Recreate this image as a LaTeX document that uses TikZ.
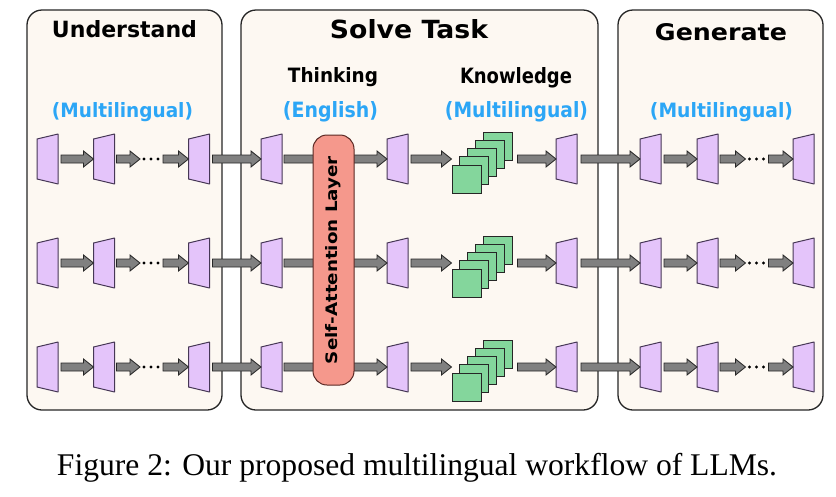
\documentclass[tikz,border=0pt]{standalone}
\usepackage{fontspec}
\setmainfont{Liberation Serif}
\newfontfamily\comicf{DejaVu Sans}
\usetikzlibrary{calc}
\definecolor{panelfill}{RGB}{253,248,242}
\definecolor{trapfill}{RGB}{228,196,250}
\definecolor{trapdraw}{RGB}{70,55,85}
\definecolor{greenfill}{RGB}{132,214,156}
\definecolor{safill}{RGB}{245,152,140}
\definecolor{sadraw}{RGB}{90,40,35}
\definecolor{bluetxt}{RGB}{44,166,246}
\definecolor{arrfill}{RGB}{128,128,128}
\tikzset{
  panel/.style={draw=black!85, line width=1.3pt, fill=panelfill, rounded corners=15pt},
  trapbox/.style={inner sep=0pt, outer sep=0pt, minimum width=21pt, minimum height=50pt},
  trapshape/.style={draw=trapdraw, fill=trapfill, line width=1pt, line join=round},
  dotsbox/.style={inner sep=0pt, outer sep=0pt, minimum width=22pt, minimum height=6pt},
  stackbox/.style={inner sep=0pt, outer sep=0pt, minimum width=62pt, minimum height=10pt},
  sqshape/.style={draw=black!85, fill=greenfill, line width=0.9pt},
  blockarr/.style={draw=black!85, fill=arrfill, line width=0.8pt, line join=miter},
  salayer/.style={draw=sadraw, fill=safill, line width=1pt, rounded corners=14pt,
    minimum width=41pt, minimum height=250pt, inner sep=0pt},
  title/.style={font=\comicf\bfseries, text=black, inner sep=0pt, anchor=base},
  sub/.style={font=\comicf\bfseries, inner sep=0pt, anchor=base},
}
% trapezoid node
\newcommand{\mytrap}[3]{%
  \node[trapbox] (#1) at (#2,#3) {};
  \draw[trapshape] ($(#1.north west)+(0,5)$) -- (#1.north east) -- (#1.south east) -- ($(#1.south west)+(0,-5)$) -- cycle;}
% block arrow from node #1 (east) to node #2 (west), with start gap #3
\newcommand{\barrow}[3]{%
  \path let \p1=(#1.east), \p2=(#2.west) in
    [blockarr] (\x1+#3,\y1+4pt) -- (\x2-10pt,\y1+4pt) -- (\x2-10pt,\y1+8pt) -- (\x2,\y1)
    -- (\x2-10pt,\y1-8pt) -- (\x2-10pt,\y1-4pt) -- (\x1+#3,\y1-4pt) -- cycle;}
\newcommand{\mydots}[3]{%
  \node[dotsbox] (#1) at (#2,#3) {};
  \fill ($(#1)+(-7,0)$) circle (1.6pt);
  \fill ($(#1)+(0,0)$) circle (1.6pt);
  \fill ($(#1)+(7,0)$) circle (1.6pt);}
\newcommand{\mystack}[3]{%
  \node[stackbox] (#1) at (#2,#3) {};
  \foreach \i in {4,3,2,1,0} {
    \draw[sqshape] ($(#1)+(-30.5+7.75*\i,6-8.25*\i)$) rectangle ++(29,28);
  }}
\begin{document}
\begin{tikzpicture}[x=1pt,y=-1pt]
\useasboundingbox (0,0) rectangle (836,496);
\fill[white] (0,0) rectangle (836,496);
% panels
\draw[panel] (27,10) rectangle (222,410);
\draw[panel] (241,10) rectangle (598,410);
\draw[panel] (618,10) rectangle (823,410);
% titles
\node[title] (tU) at (124.5,37) {\resizebox{145pt}{17pt}{Understand}};
\node[title] (tS) at (409,38) {\resizebox{158pt}{19pt}{Solve Task}};
\node[title] (tG) at (721,40) {\resizebox{132pt}{17pt}{Generate}};
\node[sub, text=bluetxt] (mU) at (122.5,117) {\resizebox{141pt}{15pt}{(Multilingual)}};
\node[sub, text=black] (th) at (333,82) {\resizebox{90pt}{15pt}{Thinking}};
\node[sub, text=bluetxt] (en) at (330.5,117) {\resizebox{95pt}{16pt}{(English)}};
\node[sub, text=black] (kn) at (516,83) {\resizebox{112pt}{16pt}{Knowledge}};
\node[sub, text=bluetxt] (mS) at (516.5,117) {\resizebox{143pt}{16pt}{(Multilingual)}};
\node[sub, text=bluetxt] (mG) at (721.5,117) {\resizebox{143pt}{15pt}{(Multilingual)}};
% rows
\foreach \r/\y in {1/159,2/263,3/367} {
  \mytrap{ua\r}{47.5}{\y}
  \mytrap{ub\r}{104}{\y}
  \mydots{ud\r}{151}{\y}
  \mytrap{uc\r}{199}{\y}
  \mytrap{sa\r}{271.5}{\y}
  \mytrap{sb\r}{397.5}{\y}
  \mystack{sk\r}{482.5}{\y}
  \mytrap{sc\r}{566.5}{\y}
  \mytrap{ga\r}{650.5}{\y}
  \mytrap{gb\r}{707.5}{\y}
  \mydots{gd\r}{756.5}{\y}
  \mytrap{gc\r}{803.5}{\y}
  \barrow{ua\r}{ub\r}{3pt}
  \barrow{ub\r}{ud\r}{2pt}
  \barrow{ud\r}{uc\r}{1pt}
  \barrow{uc\r}{sa\r}{3pt}
  \barrow{sa\r}{sb\r}{2pt}
  \barrow{sb\r}{sk\r}{3pt}
  \barrow{sk\r}{sc\r}{4pt}
  \barrow{sc\r}{ga\r}{4pt}
  \barrow{ga\r}{gb\r}{3pt}
  \barrow{gb\r}{gd\r}{2pt}
  \barrow{gd\r}{gc\r}{1pt}
}
% self-attention layer
\node[salayer] (sal) at (333.5,260) {};
\node[font=\comicf\bfseries, rotate=90, inner sep=0pt] (saltxt) at (sal) {\resizebox{208pt}{12pt}{Self-Attention Layer}};
% caption
\node[inner sep=0pt, anchor=base] (cap) at (417,475) {\resizebox{720pt}{!}{Figure 2: Our proposed multilingual workflow of LLMs.}};
\end{tikzpicture}
\end{document}
